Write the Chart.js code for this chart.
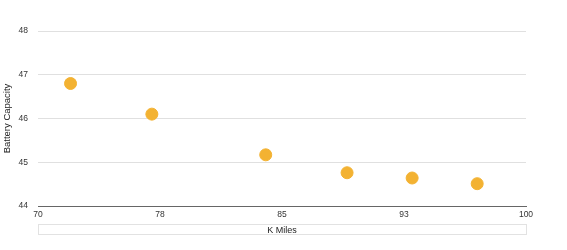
<!DOCTYPE html>
<html>
<head>
<meta charset="utf-8">
<script src="https://cdn.jsdelivr.net/npm/chart.js@4/dist/chart.umd.min.js"></script>
<style>
  html, body { margin: 0; padding: 0; background: #fff; }
  #wrap { width: 567px; height: 250px; position: relative; }
</style>
</head>
<body>
<div id="wrap"><canvas id="chart"></canvas></div>
<script>
  const kMiles = [72, 77, 84, 89, 93, 97];
  const capacity = [46.8, 46.1, 45.17, 44.76, 44.64, 44.51];
  const xTicks = [70, 77.5, 85, 92.5, 100];
  const yTicks = [44, 45, 46, 47, 48];

  const FONT = 'Liberation Sans, Arial, Helvetica, sans-serif';

  // light box around the x-axis title
  const titleBox = {
    id: 'titleBox',
    afterDraw(chart) {
      const x = chart.scales.x;
      const ctx = chart.ctx;
      ctx.save();
      ctx.strokeStyle = '#e2e2e2';
      ctx.lineWidth = 1;
      ctx.strokeRect(x.left + 0.5, x.bottom - 25.5, x.right - x.left, 10);
      ctx.restore();
    },
  };

  new Chart(document.getElementById('chart'), {
    type: 'scatter',
    data: {
      datasets: [{
        data: kMiles.map((v, i) => ({ x: v, y: capacity[i] })),
        backgroundColor: '#f3b232',
        borderColor: '#f3b232',
        pointRadius: 6,
        pointHoverRadius: 6,
      }],
    },
    plugins: [titleBox],
    options: {
      responsive: true,
      maintainAspectRatio: false,
      animation: false,
      layout: { padding: { left: 0, right: 41, top: 31, bottom: 0 } },
      plugins: { legend: { display: false }, tooltip: { enabled: false } },
      scales: {
        x: {
          type: 'linear',
          min: 70,
          max: 100,
          afterBuildTicks(scale) { scale.ticks = xTicks.map((v) => ({ value: v })); },
          afterFit(scale) { scale.height = 44; },
          ticks: {
            color: '#333',
            font: { family: FONT, size: 8.5 },
            padding: 4,
            maxRotation: 0,
            callback(value) { return Math.round(value); },
          },
          grid: { display: false, drawTicks: false },
          border: { display: true, color: '#666', width: 1 },
          title: {
            display: true,
            text: 'K Miles',
            color: '#222',
            font: { family: FONT, size: 9 },
            padding: { top: 0, bottom: 14 },
          },
        },
        y: {
          min: 44,
          max: 48,
          afterBuildTicks(scale) { scale.ticks = yTicks.map((v) => ({ value: v })); },
          afterFit(scale) { scale.width = 38; },
          ticks: {
            color: '#333',
            font: { family: FONT, size: 8.5 },
            padding: 10,
          },
          grid: { color: '#e0e0e0', drawTicks: false },
          border: { display: false },
          title: {
            display: true,
            text: 'Battery Capacity',
            color: '#222',
            font: { family: FONT, size: 9.5 },
            padding: { top: 2, bottom: 0 },
          },
        },
      },
    },
  });
</script>
</body>
</html>
